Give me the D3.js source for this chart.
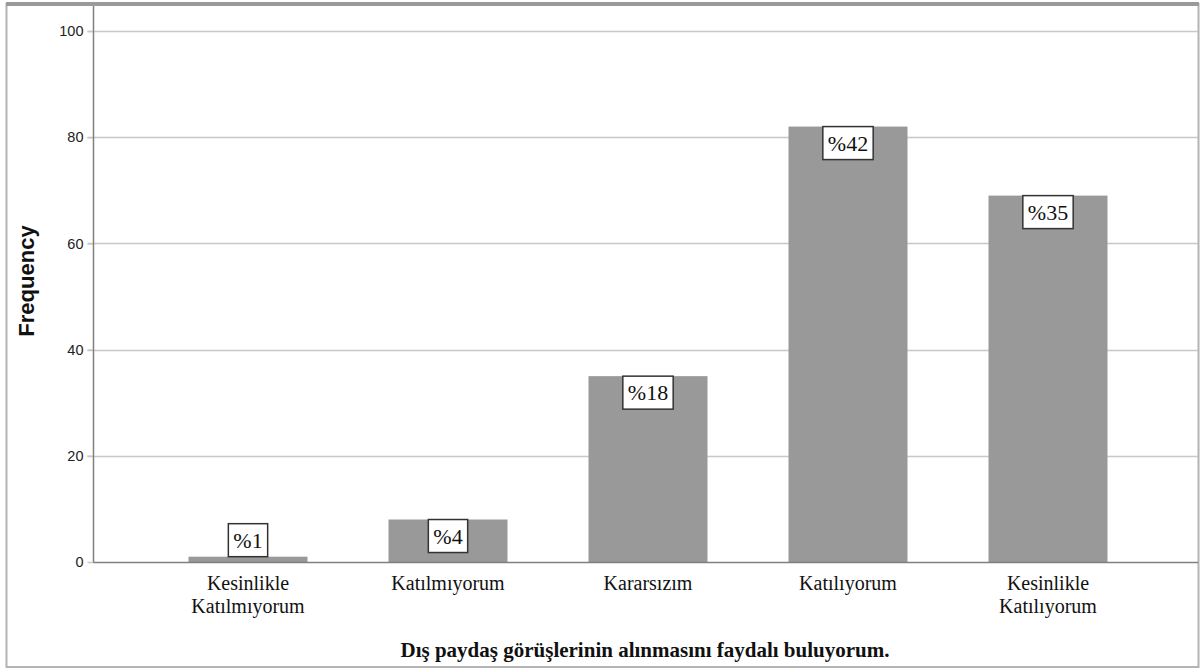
<!DOCTYPE html>
<html>
<head>
<meta charset="utf-8">
<script src="https://cdn.jsdelivr.net/npm/d3@7"></script>
<style>
  html, body { margin: 0; padding: 0; background: #fff; }
  svg { display: block; }
</style>
</head>
<body>
<svg id="chart" width="1200" height="670"></svg>
<script>
// Response categories (each label may wrap onto two lines)
const categories = [
  ["Kesinlikle", "Katılmıyorum"],
  ["Katılmıyorum"],
  ["Kararsızım"],
  ["Katılıyorum"],
  ["Kesinlikle", "Katılıyorum"]
];
// Frequency of each response
const frequencies = [1, 8, 35, 82, 69];
// Y axis ticks
const yTicks = [0, 20, 40, 60, 80, 100];

const xTitle = "Dış paydaş görüşlerinin alınmasını faydalı buluyorum.";
const yTitle = "Frequency";

const SERIF = "Liberation Serif, DejaVu Serif, serif";
const SANS = "Liberation Sans, Arial, sans-serif";

const total = d3.sum(frequencies);
const rows = categories.map((c, i) => ({
  key: c.join(" "),
  lines: c,
  value: frequencies[i],
  pct: Math.round(frequencies[i] / total * 100)
}));

const svg = d3.select("#chart");

// Outer frame
svg.append("rect")
  .attr("x", 6.5).attr("y", 4).attr("width", 1192).attr("height", 663)
  .attr("fill", "none").attr("stroke", "#b4b4b4").attr("stroke-width", 2);
svg.append("line")
  .attr("x1", 6).attr("x2", 1199).attr("y1", 4).attr("y2", 4)
  .attr("stroke", "#9a9a9a").attr("stroke-width", 4);

const plot = { left: 93.5, right: 1198, top: 6, bottom: 562 };

const x = d3.scaleBand()
  .domain(rows.map(d => d.key))
  .range([148, 1148])
  .paddingInner(0.405)
  .paddingOuter(0.2025);

const y = d3.scaleLinear()
  .domain([0, 100])
  .range([plot.bottom, 31]);

// Gridlines
svg.append("g").selectAll("line")
  .data(yTicks.filter(t => t > 0))
  .join("line")
  .attr("x1", plot.left - 6).attr("x2", plot.right)
  .attr("y1", d => Math.round(y(d)) + 0.5).attr("y2", d => Math.round(y(d)) + 0.5)
  .attr("stroke", "#c8c8c8").attr("stroke-width", 1.5);

// Y axis via d3 axis generator, then restyled
const yAxis = svg.append("g")
  .attr("transform", `translate(${plot.left},0)`)
  .call(d3.axisLeft(y).tickValues(yTicks).tickSize(6).tickPadding(4).tickFormat(d3.format("d")));
yAxis.select(".domain").remove();
yAxis.selectAll(".tick line").attr("stroke", "#c8c8c8").attr("stroke-width", 1.5);
yAxis.selectAll(".tick text")
  .attr("font-family", SANS)
  .attr("font-size", 14.5)
  .attr("fill", "#222");

// Bars
svg.append("g").selectAll("rect")
  .data(rows)
  .join("rect")
  .attr("x", d => x(d.key))
  .attr("width", x.bandwidth())
  .attr("y", d => y(d.value))
  .attr("height", d => y(0) - y(d.value))
  .attr("fill", "#999999");

// Axis lines
svg.append("line")
  .attr("x1", plot.left).attr("x2", plot.left)
  .attr("y1", plot.top).attr("y2", plot.bottom + 0.5)
  .attr("stroke", "#808080").attr("stroke-width", 1.5);
svg.append("line")
  .attr("x1", plot.left).attr("x2", plot.right)
  .attr("y1", plot.bottom + 0.5).attr("y2", plot.bottom + 0.5)
  .attr("stroke", "#808080").attr("stroke-width", 1.5);

// Percentage labels in boxes: inside the top of the bar when it fits, above otherwise
const boxH = 33;
svg.append("g").selectAll("g")
  .data(rows)
  .join("g")
  .each(function (d) {
    const g = d3.select(this);
    const cx = x(d.key) + x.bandwidth() / 2;
    const barTop = y(d.value);
    const barH = y(0) - barTop;
    const top = barH >= boxH ? barTop : barTop - boxH;
    const t = g.append("text")
      .attr("x", cx)
      .attr("y", top + boxH / 2 + 7.5)
      .attr("text-anchor", "middle")
      .attr("font-family", SERIF)
      .attr("font-size", 22)
      .attr("fill", "#111")
      .text("%" + d.pct);
    const w = t.node().getComputedTextLength() + 10;
    g.insert("rect", "text")
      .attr("x", cx - w / 2)
      .attr("y", top)
      .attr("width", w)
      .attr("height", boxH)
      .attr("fill", "#fff")
      .attr("stroke", "#333")
      .attr("stroke-width", 1.5);
  });

// Category labels
const cat = svg.append("g").selectAll("text")
  .data(rows)
  .join("text")
  .attr("x", d => x(d.key) + x.bandwidth() / 2)
  .attr("y", 590)
  .attr("text-anchor", "middle")
  .attr("font-family", SERIF)
  .attr("font-size", 20)
  .attr("fill", "#111");
cat.selectAll("tspan")
  .data(d => d.lines.map((l, i) => ({ l, i, cx: x(d.key) + x.bandwidth() / 2 })))
  .join("tspan")
  .attr("x", d => d.cx)
  .attr("dy", d => d.i === 0 ? 0 : 23)
  .text(d => d.l);

// Axis titles
svg.append("text")
  .attr("x", 645).attr("y", 657)
  .attr("text-anchor", "middle")
  .attr("font-family", SERIF)
  .attr("font-weight", "bold")
  .attr("font-size", 21)
  .attr("fill", "#111")
  .text(xTitle);

svg.append("text")
  .attr("transform", "translate(34,281) rotate(-90)")
  .attr("text-anchor", "middle")
  .attr("font-family", SANS)
  .attr("font-weight", "bold")
  .attr("font-size", 22)
  .attr("fill", "#111")
  .text(yTitle);
</script>
</body>
</html>
